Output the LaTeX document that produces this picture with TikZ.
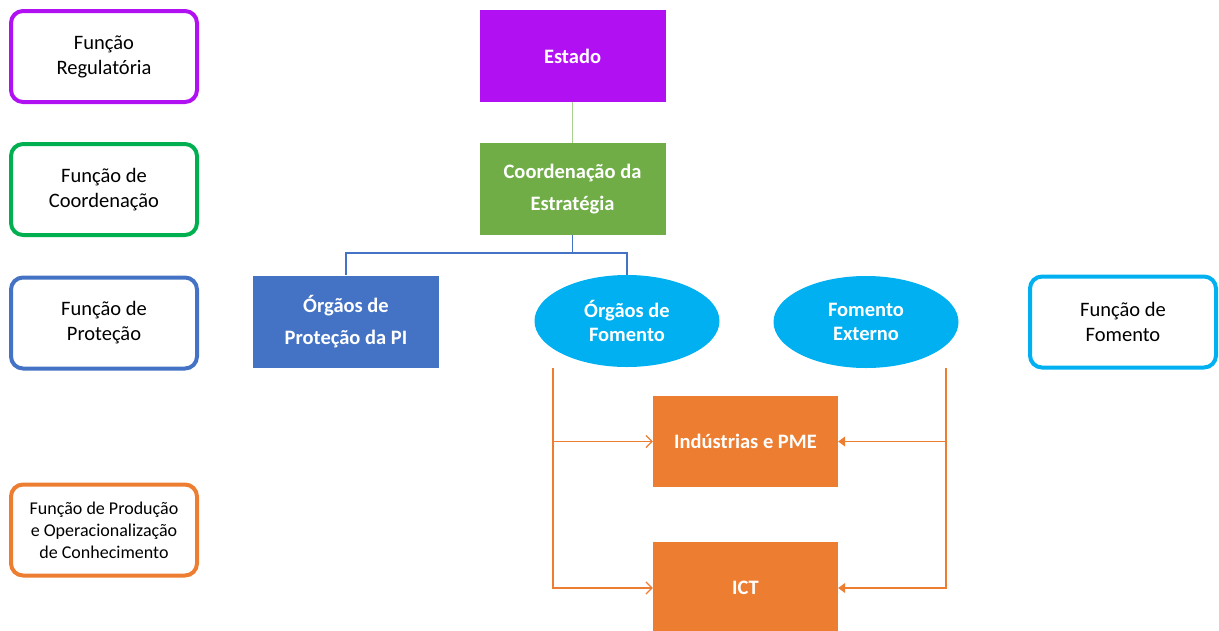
\documentclass[tikz,border=0pt]{standalone}
\usepackage{fontspec}
\setmainfont{Carlito}
\usetikzlibrary{arrows.meta,shapes.geometric}
\definecolor{roxo}{RGB}{177,16,243}
\definecolor{verde}{RGB}{112,173,71}
\definecolor{verdefio}{RGB}{169,209,142}
\definecolor{verdeborda}{RGB}{0,176,80}
\definecolor{azul}{RGB}{68,114,196}
\definecolor{ciano}{RGB}{0,176,240}
\definecolor{laranja}{RGB}{237,125,49}
\tikzstyle{funcao}=[rectangle, draw, rounded corners=12pt, line width=4pt, fill=white,
    minimum width=186pt, minimum height=91pt, align=center,
    font=\fontsize{20.5}{25}\selectfont]
\tikzstyle{bloco}=[rectangle, minimum width=186pt, minimum height=92pt, align=center,
    text=white, font=\bfseries\fontsize{20.5}{32}\selectfont]
\tikzstyle{orgao}=[ellipse, fill=ciano, minimum width=185pt, minimum height=92pt,
    inner sep=0pt, align=center, text=white, font=\bfseries\fontsize{20.5}{23.5}\selectfont]
\newcommand{\funcao}{\node[funcao]}
\newcommand{\bloco}{\node[bloco]}

\begin{document}
\begin{tikzpicture}[x=1pt, y=-1pt
    ,fluxoa/.style={draw=laranja, line width=1.2pt, -{Straight Barb[length=6pt,width=12pt]}}
    ,fluxob/.style={draw=laranja, line width=1.2pt, -{Triangle[length=7pt,width=10pt]}}
]
\useasboundingbox (0,0) rectangle (1219,630);
% funcoes
\funcao[draw=roxo] (freg) at (104,56.5) {Função\\Regulatória};
\funcao[draw=verdeborda] (fcoo) at (104,189.5) {Função de\\Coordenação};
\funcao[draw=azul] (fpro) at (104,323) {Função de\\Proteção};
\funcao[draw=laranja, font=\fontsize{18}{22}\selectfont] (fprd) at (104,530)
    {Função de Produção\\e Operacionalização\\de Conhecimento};
\funcao[draw=ciano] (ffom) at (1123,322) {Função de\\Fomento};
% atores
\bloco[fill=roxo] (estado) at (572.5,56) {Estado};
\bloco[fill=verde] (coord) at (572.5,189) {Coordenação da\\Estratégia};
\bloco[fill=azul] (protpi) at (346,321.5) {Órgãos de\\Proteção da PI};
\node[orgao] (orgfom) at (627,321) {Órgãos de\\Fomento};
\node[orgao] (fomext) at (866,322) {Fomento\\Externo};
\bloco[fill=laranja, minimum width=185pt, minimum height=91pt] (ind) at (745.5,441.5) {Indústrias e PME};
\bloco[fill=laranja, minimum width=185pt] (ict) at (745.5,588) {ICT};
% ligacoes
\coordinate (ramo) at (572.5,253);
\coordinate (esq) at ([xshift=-74pt, yshift=-1pt]orgfom.south);
\coordinate (dir) at ([xshift=80pt]fomext.south);
\draw[verdefio, line width=1.2pt] (estado) -- (coord);
\draw[azul, line width=1.2pt] (coord.south) -- (ramo) -| (protpi.north);
\draw[azul, line width=1.2pt] (ramo) -| (orgfom.north);
\draw[fluxoa] (esq) |- (ind.west);
\draw[fluxoa] (esq) |- (ict.west);
\draw[fluxob] (dir) |- (ind.east);
\draw[fluxob] (dir) |- (ict.east);
\end{tikzpicture}
\end{document}
